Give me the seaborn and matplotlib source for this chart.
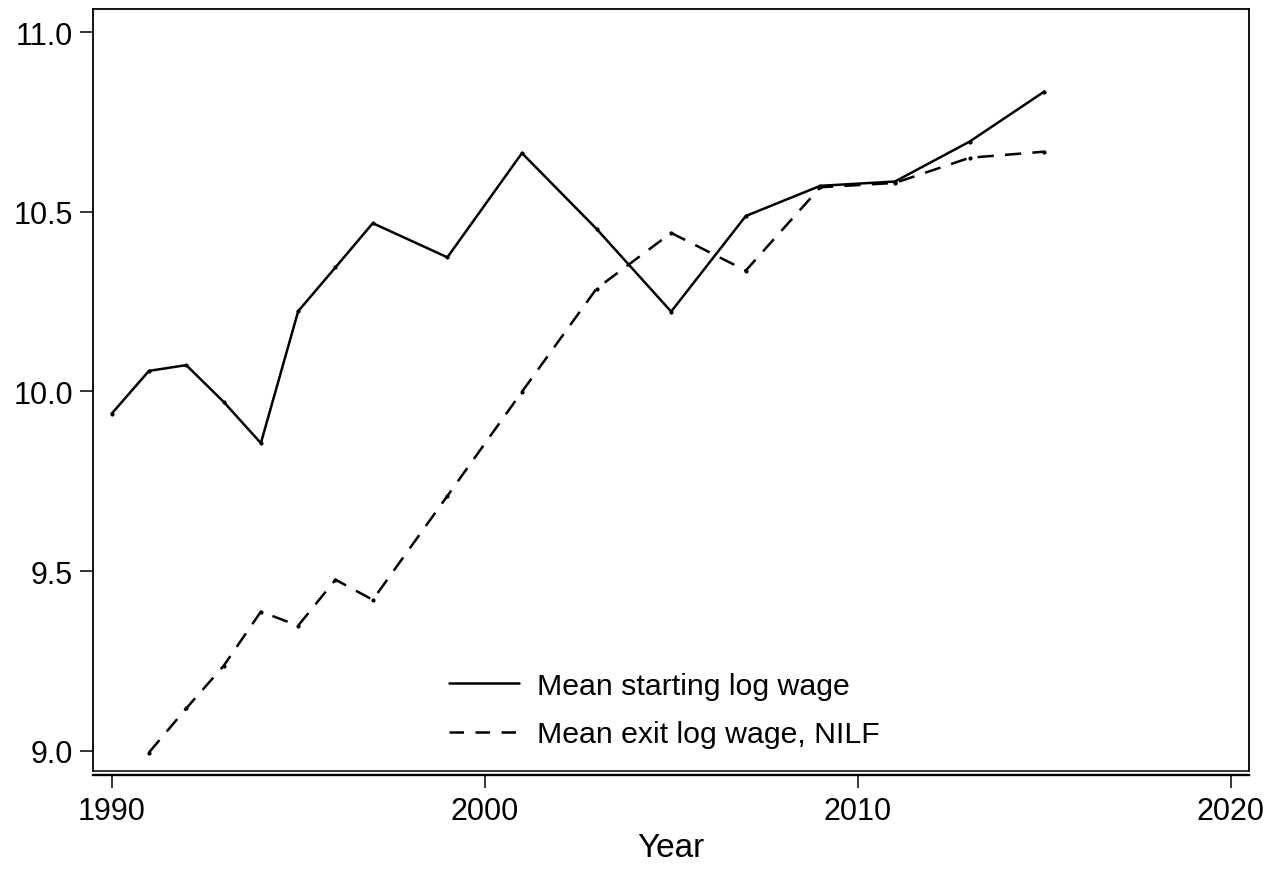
import matplotlib
matplotlib.use("Agg")
import matplotlib.pyplot as plt
import pandas as pd
import seaborn as sns

# Mean starting log wage by year
start_years = [1990, 1991, 1992, 1993, 1994, 1995, 1996, 1997,
               1999, 2001, 2003, 2005, 2007, 2009, 2011, 2013, 2015]
start_wage = [9.938, 10.057, 10.073, 9.971, 9.856, 10.223, 10.345, 10.468,
              10.373, 10.663, 10.452, 10.222, 10.488, 10.572, 10.584, 10.695, 10.834]

# Mean exit log wage for those leaving to NILF
exit_years = [1991, 1992, 1993, 1994, 1995, 1996, 1997,
              1999, 2001, 2003, 2005, 2007, 2009, 2011, 2013, 2015]
exit_wage = [8.995, 9.118, 9.236, 9.387, 9.348, 9.476, 9.420,
             9.709, 9.999, 10.286, 10.441, 10.336, 10.568, 10.580, 10.650, 10.667]

series_labels = ["Mean starting log wage", "Mean exit log wage, NILF"]
x_ticks = [1990, 2000, 2010, 2020]
y_ticks = [9.0, 9.5, 10.0, 10.5, 11.0]

sns.set_style("white")
plt.rcParams["font.family"] = ["Liberation Sans", "DejaVu Sans"]
plt.rcParams["text.color"] = "black"
plt.rcParams["axes.labelcolor"] = "black"
plt.rcParams["xtick.color"] = "black"
plt.rcParams["ytick.color"] = "black"

fig = plt.figure(figsize=(12.69, 8.70), dpi=100)
ax = fig.add_axes([0.0733, 0.1126, 0.9109, 0.8759])

df_start = pd.DataFrame({"Year": start_years, "wage": start_wage})
df_exit = pd.DataFrame({"Year": exit_years, "wage": exit_wage})

sns.lineplot(data=df_start, x="Year", y="wage", ax=ax, color="black",
             linewidth=1.8, marker="o", markersize=3.0, markeredgewidth=0,
             label=series_labels[0])
sns.lineplot(data=df_exit, x="Year", y="wage", ax=ax, color="black",
             linewidth=1.8, marker="o", markersize=3.0, markeredgewidth=0,
             label=series_labels[1])
ax.lines[1].set_dashes((6.5, 4.5))

ax.set_xlim(1989.5, 2020.49)
ax.set_ylim(8.9435, 11.064)
ax.set_xticks(x_ticks)
ax.set_yticks(y_ticks)
ax.set_yticklabels([f"{v:.1f}" for v in y_ticks])
ax.set_xlabel("Year", fontsize=24, labelpad=4, color="black")
ax.set_ylabel("")

for side in ["left", "right", "top"]:
    ax.spines[side].set_color("black")
    ax.spines[side].set_linewidth(1.3)
ax.spines["bottom"].set_color("black")
ax.spines["bottom"].set_linewidth(1.7)
ax.spines["bottom"].set_position(("outward", 2.6))

# inner frame line along the bottom of the plot area
ax.plot([0, 1], [0, 0], transform=ax.transAxes, color="black",
        linewidth=1.1, clip_on=False)

ax.tick_params(axis="both", which="major", direction="out", length=9.4,
               width=1.1, color="black", labelsize=22, labelcolor="black",
               pad=5, left=True, bottom=True)
ax.tick_params(axis="x", pad=6)

leg = ax.legend(loc="lower left", bbox_to_anchor=(0.308, 0.030),
                frameon=False, fontsize=21.8, handlelength=2.3,
                handletextpad=0.62, labelspacing=0.68, borderpad=0,
                borderaxespad=0)
for t in leg.get_texts():
    t.set_color("black")
for h in leg.get_lines():
    h.set_marker("")
    h.set_linewidth(1.8)
leg.get_lines()[1].set_dashes((5.8, 4.6))

fig.savefig("out.png", dpi=100, facecolor="white")
